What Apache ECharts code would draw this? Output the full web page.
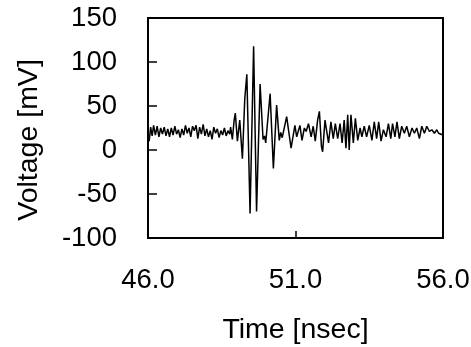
<!DOCTYPE html>
<html><head><meta charset="utf-8">
<script src="https://cdn.jsdelivr.net/npm/echarts@6/dist/echarts.min.js"></script>
<style>html,body{margin:0;padding:0;background:#fff}#c{width:471px;height:347px}</style>
</head><body><div id="c"></div>
<script>
const timeNs = [
46.00,46.04,46.09,46.14,46.19,46.25,46.31,46.37,46.43,46.49,46.55,46.61,46.67,46.73,46.79,46.85,46.91,46.97,
47.03,47.09,47.15,47.21,47.27,47.33,47.39,47.45,47.51,47.57,47.63,47.69,47.75,47.81,47.87,47.93,47.99,
48.05,48.11,48.17,48.23,48.29,48.35,48.41,48.47,48.53,48.59,48.65,48.71,48.77,48.80,48.86,48.92,48.96,
49.03,49.11,49.20,49.28,49.35,49.46,49.58,49.68,49.80,49.90,49.95,49.99,50.14,50.25,50.36,50.45,50.50,50.55,
50.70,50.85,50.98,51.04,
51.07,51.15,51.22,51.30,51.36,51.44,51.53,51.60,51.67,51.75,51.81,51.88,51.92,52.00,52.06,52.12,52.20,52.28,
52.35,52.43,52.51,52.58,52.65,52.71,52.77,52.82,52.88,52.96,53.03,53.11,53.19,53.25,53.33,53.41,53.50,53.59,
53.67,53.75,53.82,53.90,53.98,54.07,54.15,54.23,54.29,54.37,54.44,54.52,54.60,54.69,54.77,54.86,54.95,55.03,
55.11,55.20,55.28,55.37,55.45,55.54,55.62,55.71,55.79,55.85,55.91,56.00
];
const voltageMv = [
18,10,26,16,28,17,27,15,25,18,26,16,24,15,25,17,27,18,
23,14,24,17,28,19,25,15,27,22,28,13,26,18,29,16,24,
15,22,12,26,19,24,14,22,17,25,16,22,18,26,12,34,42,
10,34,-10,58,86,-72,118,-70,75,12,16,8,64,-21,51,11,20,14,
38,2,28,15,
17,28,11,25,21,30,15,27,10,34,44,4,-2,34,36,8,32,13,
30,13,30,8,34,2,40,0,40,8,36,11,25,15,27,15,28,11,
32,13,32,10,23,15,30,13,30,15,32,13,27,19,27,15,25,19,
25,13,27,19,27,21,23,19,23,19,17,17
];
const xTicks = [46, 51, 56];
const yTicks = [-100, -50, 0, 50, 100, 150];

const chart = echarts.init(document.getElementById('c'));
const font = 'Liberation Sans, Arial, sans-serif';
chart.setOption({
  animation: false,
  grid: {left: 148, right: 28, top: 18, bottom: 109, show: true, borderColor: '#000', borderWidth: 2,
         containLabel: false, outerBoundsMode: 'none'},
  xAxis: {
    type: 'value', min: xTicks[0], max: xTicks[xTicks.length-1], interval: 5,
    name: 'Time [nsec]', nameLocation: 'middle', nameGap: 78,
    nameTextStyle: {fontFamily: font, fontSize: 28.5, color: '#000'},
    axisLine: {show: true, onZero: false, lineStyle: {color: '#000', width: 2}},
    axisTick: {show: true, inside: true, length: 7, lineStyle: {color: '#000', width: 1.5}},
    axisLabel: {fontFamily: font, fontSize: 27.5, color: '#000', margin: 28, formatter: v => v.toFixed(1)},
    splitLine: {show: false}
  },
  yAxis: {
    type: 'value', min: yTicks[0], max: yTicks[yTicks.length-1], interval: 50,
    name: 'Voltage [mV]', nameLocation: 'middle', nameGap: 104, nameRotate: 90,
    nameTextStyle: {fontFamily: font, fontSize: 28.5, color: '#000', padding: [0, 24, 0, 0]},
    axisLine: {show: true, onZero: false, lineStyle: {color: '#000', width: 2}},
    axisTick: {show: true, inside: true, length: 9, lineStyle: {color: '#000', width: 1.5}},
    axisLabel: {fontFamily: font, fontSize: 27.5, color: '#000', margin: 31},
    splitLine: {show: false}
  },
  series: [{
    type: 'line', showSymbol: false, symbol: 'none',
    data: timeNs.map((t, i) => [t, voltageMv[i]]),
    lineStyle: {color: '#000', width: 1.5}
  }]
});
</script></body></html>
